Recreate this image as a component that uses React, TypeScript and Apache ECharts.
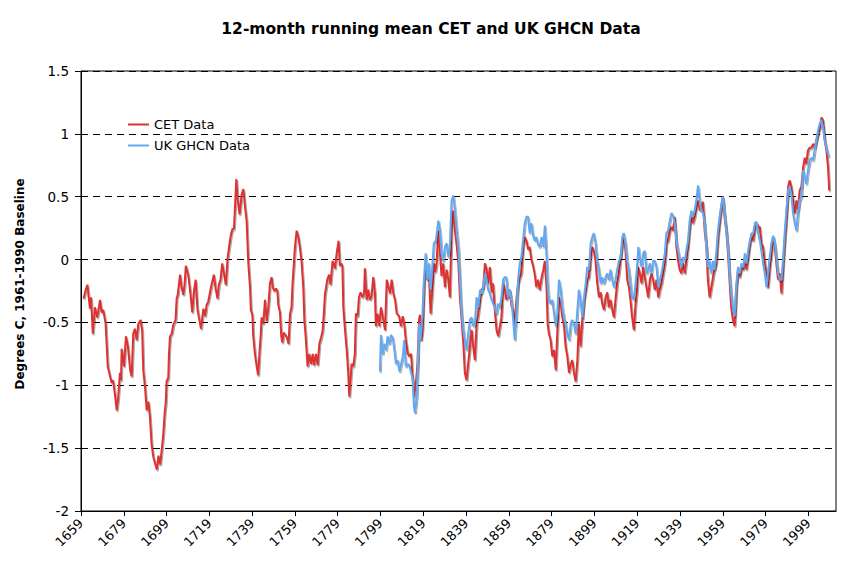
import React, { useEffect, useRef } from "react";
import * as echarts from "echarts";

// ---------- data ----------
const X_START = 1659;
const X_END = 2011.9;
const yearTickStep = 20;
const yTicks = [-2, -1.5, -1, -0.5, 0, 0.5, 1, 1.5];

const cet: [number, number][] = [
  [1660.2,-0.31],[1661.2,-0.24],[1662.0,-0.20],[1662.6,-0.30],[1663.2,-0.39],[1663.7,-0.30],[1664.5,-0.59],[1665.5,-0.38],
  [1666.6,-0.46],[1667.9,-0.32],[1668.6,-0.42],[1669.4,-0.40],[1670.5,-0.51],[1671.5,-0.85],[1672.6,-0.93],[1673.3,-0.98],
  [1674.0,-0.96],[1674.9,-1.08],[1675.7,-1.20],[1676.4,-1.09],[1677.2,-0.90],[1677.7,-0.96],[1678.0,-0.71],[1679.1,-0.85],
  [1680.0,-0.61],[1680.9,-0.69],[1682.0,-0.88],[1682.7,-0.93],[1683.4,-0.59],[1684.2,-0.55],[1685.0,-0.64],[1685.8,-0.51],
  [1686.9,-0.48],[1687.6,-0.57],[1688.1,-0.88],[1688.9,-1.01],[1689.7,-1.20],[1690.5,-1.13],[1691.2,-1.25],[1692.0,-1.47],
  [1692.8,-1.57],[1693.6,-1.62],[1694.4,-1.67],[1695.2,-1.56],[1696.0,-1.63],[1696.8,-1.50],[1697.5,-1.38],[1698.1,-1.22],
  [1698.6,-1.14],[1699.0,-0.97],[1699.8,-0.94],[1700.1,-0.76],[1700.6,-0.61],[1701.4,-0.59],[1702.1,-0.52],[1703.2,-0.48],
  [1703.7,-0.31],[1704.2,-0.28],[1705.3,-0.12],[1705.8,-0.20],[1706.8,-0.28],[1707.4,-0.20],[1708.0,-0.05],[1709.1,-0.12],
  [1710.2,-0.28],[1711.0,-0.42],[1711.8,-0.25],[1712.6,-0.16],[1713.4,-0.39],[1714.1,-0.46],[1715.1,-0.55],[1716.2,-0.39],
  [1717.0,-0.45],[1717.7,-0.36],[1718.4,-0.34],[1719.3,-0.26],[1720.0,-0.20],[1721.1,-0.12],[1721.9,-0.23],[1722.8,-0.31],
  [1723.4,-0.20],[1724.2,-0.16],[1725.0,-0.03],[1725.9,-0.12],[1726.7,-0.20],[1727.5,0.01],[1728.3,0.11],[1729.1,0.20],
  [1729.7,0.24],[1730.5,0.25],[1731.0,0.43],[1731.6,0.64],[1732.2,0.48],[1733.1,0.36],[1734.1,0.52],[1734.9,0.56],
  [1735.6,0.43],[1736.4,0.31],[1737.2,-0.03],[1738.0,-0.22],[1738.4,-0.40],[1739.1,-0.44],[1739.5,-0.61],[1740.3,-0.75],
  [1741.1,-0.85],[1741.8,-0.92],[1742.5,-0.72],[1743.0,-0.60],[1743.4,-0.46],[1744.2,-0.51],[1745.0,-0.32],[1745.8,-0.49],
  [1746.6,-0.37],[1747.3,-0.19],[1748.1,-0.14],[1748.6,-0.22],[1749.4,-0.25],[1750.2,-0.23],[1750.8,-0.25],[1751.2,-0.36],
  [1752.0,-0.42],[1752.6,-0.61],[1753.1,-0.66],[1753.7,-0.58],[1754.6,-0.60],[1755.2,-0.62],[1756.0,-0.67],[1756.7,-0.43],
  [1757.4,-0.38],[1757.9,-0.18],[1758.5,-0.03],[1759.0,0.10],[1759.8,0.23],[1760.6,0.18],[1761.3,0.10],[1762.1,-0.02],
  [1762.9,-0.22],[1763.4,-0.48],[1764.0,-0.61],[1764.9,-0.85],[1765.7,-0.75],[1766.5,-0.83],[1767.3,-0.75],[1767.9,-0.84],
  [1768.8,-0.75],[1769.6,-0.84],[1770.4,-0.67],[1771.2,-0.62],[1771.9,-0.57],[1772.5,-0.43],[1773.0,-0.28],[1774.1,-0.16],
  [1775.0,-0.12],[1775.6,-0.20],[1776.6,-0.01],[1777.7,-0.07],[1778.5,0.05],[1779.4,0.15],[1780.0,-0.05],[1780.6,-0.03],
  [1781.2,-0.05],[1781.6,-0.38],[1782.4,-0.56],[1783.2,-0.72],[1783.9,-0.90],[1784.4,-1.09],[1785.0,-0.95],[1785.5,-0.83],
  [1786.3,-0.85],[1787.0,-0.75],[1787.5,-0.43],[1788.3,-0.45],[1788.9,-0.30],[1789.7,-0.26],[1790.5,-0.30],[1791.3,-0.27],
  [1791.7,-0.07],[1792.5,-0.32],[1793.3,-0.24],[1794.0,-0.32],[1794.8,-0.29],[1795.6,-0.14],[1796.4,-0.27],[1796.8,-0.53],
  [1797.6,-0.43],[1798.4,-0.53],[1799.2,-0.38],[1800.3,-0.48],[1801.1,-0.56],[1801.9,-0.16],[1802.7,-0.22],[1803.5,-0.27],
  [1804.2,-0.16],[1805.0,-0.27],[1805.8,-0.32],[1806.6,-0.43],[1807.7,-0.45],[1808.5,-0.53],[1809.4,-0.45],[1810.2,-0.53],
  [1810.8,-0.64],[1811.8,-0.75],[1812.4,-0.77],[1813.3,-0.75],[1813.9,-0.93],[1814.6,-1.09],[1815.4,-1.01],[1816.2,-0.85],
  [1817.0,-0.48],[1817.4,-0.44],[1818.0,-0.64],[1818.6,-0.56],[1819.3,-0.19],[1820.1,-0.06],[1820.9,-0.16],[1821.6,-0.11],
  [1822.4,-0.43],[1823.2,-0.24],[1824.0,-0.03],[1824.6,-0.10],[1825.2,-0.03],[1826.0,0.23],[1826.8,0.05],[1827.5,-0.13],
  [1828.3,-0.03],[1829.1,-0.22],[1829.9,-0.08],[1830.7,-0.16],[1831.4,-0.30],[1832.2,0.23],[1833.0,0.39],[1833.8,0.23],
  [1834.6,0.11],[1835.4,-0.03],[1836.1,-0.30],[1836.9,-0.48],[1837.7,-0.67],[1838.4,-0.90],[1839.2,-0.96],[1840.0,-0.82],
  [1840.8,-0.69],[1841.6,-0.56],[1842.3,-0.69],[1843.1,-0.80],[1843.9,-0.51],[1844.7,-0.43],[1845.5,-0.32],[1846.2,-0.24],
  [1847.0,-0.22],[1847.8,-0.03],[1848.6,-0.08],[1849.3,-0.19],[1850.1,-0.06],[1850.9,-0.26],[1851.6,-0.19],[1852.4,-0.40],
  [1853.2,-0.56],[1854.0,-0.61],[1854.8,-0.53],[1855.5,-0.46],[1856.3,-0.19],[1857.1,-0.24],[1857.8,-0.32],[1858.6,-0.27],
  [1859.4,-0.24],[1860.2,-0.37],[1860.9,-0.40],[1861.7,-0.53],[1862.5,-0.32],[1863.3,-0.19],[1864.1,-0.14],[1864.8,-0.11],
  [1865.6,0.10],[1866.4,0.18],[1867.2,0.15],[1868.0,0.08],[1868.7,0.10],[1869.5,0.00],[1870.3,-0.05],[1871.1,-0.12],
  [1871.8,-0.22],[1872.6,-0.16],[1873.4,-0.24],[1874.3,-0.14],[1875.1,-0.08],[1875.8,-0.01],[1876.6,-0.22],[1877.1,-0.51],
  [1877.7,-0.59],[1878.5,-0.64],[1879.3,-0.77],[1880.1,-0.72],[1880.9,-0.88],[1881.6,-0.59],[1882.4,-0.30],[1883.2,-0.35],
  [1884.0,-0.46],[1884.8,-0.53],[1885.5,-0.69],[1886.3,-0.77],[1887.1,-0.90],[1887.9,-0.83],[1888.6,-0.80],[1889.4,-0.90],
  [1890.2,-0.97],[1891.0,-0.80],[1891.7,-0.51],[1892.5,-0.69],[1893.3,-0.48],[1894.1,-0.32],[1894.9,-0.24],[1895.6,-0.16],
  [1896.4,-0.14],[1897.2,0.02],[1898.0,0.10],[1898.7,0.07],[1899.5,-0.01],[1900.3,-0.19],[1901.1,-0.30],[1901.9,-0.26],
  [1902.6,-0.35],[1903.4,-0.40],[1904.2,-0.30],[1905.0,-0.26],[1905.7,-0.38],[1906.5,-0.32],[1907.3,-0.40],[1908.1,-0.46],
  [1908.8,-0.32],[1909.6,-0.19],[1910.4,-0.11],[1911.2,0.02],[1912.0,0.13],[1912.7,0.18],[1913.5,0.07],[1914.3,-0.16],
  [1915.1,-0.22],[1915.8,-0.32],[1916.6,-0.46],[1917.4,-0.56],[1918.2,-0.35],[1918.9,-0.24],[1919.4,-0.06],[1920.2,-0.11],
  [1921.0,-0.19],[1921.8,-0.06],[1922.5,-0.14],[1923.3,-0.22],[1924.1,-0.30],[1924.9,-0.16],[1925.6,-0.11],[1926.4,-0.16],
  [1927.2,-0.24],[1928.0,-0.16],[1928.8,-0.30],[1929.5,-0.24],[1930.3,-0.19],[1931.1,-0.11],[1931.9,-0.03],[1932.6,0.13],
  [1933.4,0.15],[1934.2,0.23],[1935.0,0.26],[1935.7,0.23],[1936.5,0.34],[1937.3,0.10],[1938.1,-0.01],[1938.8,-0.08],
  [1939.6,-0.11],[1940.4,-0.03],[1941.2,-0.11],[1941.9,-0.01],[1942.7,0.10],[1943.5,0.26],[1944.3,0.34],[1945.0,0.29],
  [1945.8,0.34],[1946.6,0.42],[1947.4,0.47],[1948.2,0.39],[1948.9,0.42],[1949.7,0.46],[1950.5,0.23],[1951.3,0.10],
  [1952.0,-0.16],[1952.8,-0.30],[1953.6,-0.22],[1954.4,-0.14],[1955.1,-0.08],[1955.9,-0.03],[1956.7,0.18],[1957.5,0.31],
  [1958.3,0.42],[1959.0,0.50],[1959.8,0.34],[1960.6,0.23],[1961.4,0.05],[1962.1,-0.16],[1962.9,-0.38],[1963.7,-0.48],
  [1964.5,-0.53],[1965.3,-0.22],[1966.1,-0.08],[1966.9,-0.14],[1967.7,-0.06],[1968.5,-0.08],[1969.3,0.02],[1970.0,-0.08],
  [1970.8,0.02],[1971.6,0.13],[1972.4,0.18],[1973.2,0.15],[1974.0,0.26],[1974.7,0.29],[1975.5,0.26],[1976.3,0.26],
  [1977.0,0.13],[1977.8,0.10],[1978.6,-0.03],[1979.4,-0.11],[1980.1,-0.22],[1980.9,-0.06],[1981.7,0.05],[1982.5,0.18],
  [1983.3,0.10],[1984.0,-0.03],[1984.8,-0.16],[1985.6,-0.11],[1986.4,-0.27],[1987.1,-0.06],[1987.9,0.15],[1988.7,0.34],
  [1989.5,0.58],[1990.2,0.63],[1991.0,0.58],[1991.8,0.47],[1992.6,0.37],[1993.4,0.47],[1994.1,0.39],[1994.9,0.55],
  [1995.7,0.58],[1996.5,0.73],[1997.3,0.81],[1998.0,0.76],[1998.8,0.87],[1999.6,0.89],[2000.4,0.89],[2001.2,0.92],
  [2001.9,0.89],[2002.7,0.95],[2003.5,1.00],[2004.3,1.05],[2005.1,1.13],[2005.8,1.11],[2006.6,0.95],[2007.4,0.87],
  [2008.2,0.73],[2008.7,0.55],
];

const ghcn: [number, number][] = [
  [1798.7,-0.89],[1799.2,-0.60],[1800.0,-0.75],[1800.8,-0.67],[1801.6,-0.72],[1802.3,-0.61],[1803.1,-0.67],[1803.9,-0.60],
  [1804.7,-0.62],[1805.5,-0.72],[1806.2,-0.83],[1807.0,-0.80],[1807.8,-0.89],[1808.6,-0.83],[1809.4,-0.77],[1810.1,-0.64],
  [1810.8,-0.85],[1811.8,-0.83],[1812.6,-0.85],[1813.3,-0.90],[1814.1,-0.96],[1814.6,-1.17],[1815.1,-1.22],[1815.9,-1.09],
  [1816.4,-0.85],[1817.0,-0.51],[1817.7,-0.64],[1818.6,-0.43],[1819.3,-0.16],[1820.1,0.05],[1820.9,-0.16],[1821.6,-0.03],
  [1822.4,-0.24],[1823.2,-0.06],[1823.9,0.13],[1824.9,0.15],[1826.0,0.31],[1826.8,0.23],[1827.5,0.05],[1828.3,-0.01],
  [1829.1,0.10],[1829.9,0.13],[1830.7,0.02],[1831.4,0.10],[1832.2,0.47],[1833.0,0.51],[1833.8,0.39],[1834.6,0.23],
  [1835.4,0.10],[1836.1,-0.16],[1836.9,-0.43],[1837.7,-0.56],[1838.4,-0.64],[1839.2,-0.72],[1840.0,-0.59],[1840.8,-0.48],
  [1841.6,-0.46],[1842.3,-0.53],[1843.1,-0.51],[1843.9,-0.30],[1844.7,-0.38],[1845.5,-0.24],[1846.2,-0.27],[1847.0,-0.22],
  [1847.8,-0.11],[1848.6,-0.16],[1849.3,-0.24],[1850.1,-0.27],[1850.9,-0.32],[1851.6,-0.35],[1852.4,-0.38],[1853.2,-0.43],
  [1854.0,-0.35],[1854.8,-0.38],[1855.5,-0.30],[1856.3,-0.16],[1857.1,-0.14],[1857.8,-0.14],[1858.6,-0.30],[1859.4,-0.24],
  [1860.2,-0.32],[1860.9,-0.46],[1861.7,-0.64],[1862.5,-0.43],[1863.3,-0.16],[1864.1,-0.03],[1864.8,0.02],[1865.6,0.15],
  [1866.4,0.29],[1867.2,0.34],[1868.0,0.34],[1868.7,0.21],[1869.5,0.29],[1870.3,0.19],[1871.1,0.15],[1871.8,0.18],
  [1872.6,0.12],[1873.4,0.10],[1874.3,0.18],[1875.1,0.10],[1875.8,0.27],[1876.6,0.02],[1877.1,-0.19],[1877.7,-0.32],
  [1878.5,-0.35],[1879.3,-0.32],[1880.1,-0.43],[1880.9,-0.53],[1881.6,-0.43],[1882.4,-0.16],[1883.2,-0.24],[1884.0,-0.38],
  [1884.8,-0.46],[1885.5,-0.51],[1886.3,-0.59],[1887.1,-0.64],[1887.9,-0.51],[1888.6,-0.48],[1889.4,-0.51],[1890.2,-0.59],
  [1891.0,-0.40],[1891.7,-0.24],[1892.5,-0.32],[1893.3,-0.46],[1894.1,-0.30],[1894.9,-0.19],[1895.6,-0.06],[1896.4,-0.08],
  [1897.2,0.13],[1898.0,0.18],[1898.7,0.21],[1899.5,0.13],[1900.3,-0.01],[1901.1,-0.08],[1901.9,-0.19],[1902.6,-0.14],
  [1903.4,-0.19],[1904.2,-0.14],[1905.0,-0.11],[1905.7,-0.16],[1906.5,-0.08],[1907.3,-0.16],[1908.1,-0.22],[1908.8,-0.16],
  [1909.6,-0.08],[1910.4,-0.01],[1911.2,0.02],[1912.0,0.18],[1912.7,0.21],[1913.5,0.13],[1914.3,-0.01],[1915.1,-0.08],
  [1915.8,-0.19],[1916.6,-0.30],[1917.4,-0.32],[1918.2,-0.19],[1918.9,-0.06],[1919.5,0.10],[1920.2,0.02],[1921.0,-0.06],
  [1921.8,0.05],[1922.5,0.07],[1923.3,-0.11],[1924.1,-0.08],[1924.9,-0.03],[1925.6,-0.11],[1926.4,-0.01],[1927.2,-0.01],
  [1928.0,-0.06],[1928.8,-0.22],[1929.5,-0.16],[1930.3,-0.11],[1931.1,-0.03],[1931.9,0.05],[1932.6,0.21],[1933.4,0.23],
  [1934.2,0.31],[1935.0,0.37],[1935.7,0.35],[1936.5,0.29],[1937.3,0.15],[1938.1,0.07],[1938.8,0.02],[1939.6,-0.06],
  [1940.4,0.02],[1941.2,-0.01],[1941.9,0.07],[1942.7,0.15],[1943.5,0.31],[1944.3,0.39],[1945.0,0.34],[1945.8,0.39],
  [1946.6,0.47],[1947.4,0.59],[1948.2,0.47],[1948.9,0.39],[1949.7,0.37],[1950.5,0.29],[1951.3,0.10],[1952.0,-0.06],
  [1952.8,-0.01],[1953.6,-0.11],[1954.4,-0.01],[1955.1,-0.08],[1955.9,0.05],[1956.7,0.23],[1957.5,0.34],[1958.3,0.44],
  [1959.0,0.50],[1959.8,0.37],[1960.6,0.23],[1961.4,0.10],[1962.1,-0.11],[1962.9,-0.27],[1963.7,-0.38],[1964.5,-0.45],
  [1965.3,-0.20],[1966.1,-0.06],[1966.9,-0.11],[1967.7,-0.03],[1968.5,-0.06],[1969.3,0.05],[1970.0,-0.03],[1970.8,0.07],
  [1971.6,0.15],[1972.4,0.21],[1973.2,0.21],[1974.0,0.29],[1974.7,0.30],[1975.5,0.21],[1976.3,0.15],[1977.0,0.07],
  [1977.8,-0.03],[1978.6,-0.11],[1979.4,-0.22],[1980.1,-0.11],[1980.9,0.02],[1981.7,0.13],[1982.5,0.19],[1983.3,0.13],
  [1984.0,0.02],[1984.8,-0.11],[1985.6,-0.16],[1986.4,-0.16],[1987.1,-0.01],[1987.9,0.21],[1988.7,0.39],[1989.5,0.55],
  [1990.2,0.58],[1991.0,0.52],[1991.8,0.37],[1992.6,0.29],[1993.4,0.23],[1994.1,0.37],[1994.9,0.47],[1995.7,0.50],
  [1996.5,0.71],[1997.3,0.66],[1998.0,0.60],[1998.8,0.71],[1999.6,0.79],[2000.4,0.81],[2001.2,0.79],[2001.9,0.87],
  [2002.7,0.95],[2003.5,1.03],[2004.3,1.08],[2005.1,1.11],[2005.8,1.05],[2006.6,0.95],[2007.4,0.89],[2008.2,0.84],
  [2008.6,0.82],
];

const FONT = "DejaVu Sans";

export default function App() {
  const ref = useRef<HTMLDivElement>(null);

  useEffect(() => {
    document.body.style.margin = "0";
    if (!ref.current) return;
    const chart = echarts.init(ref.current, undefined, { renderer: "svg" });

    const shift = (d: [number, number][]) => d.map(([y, v]) => [y - X_START, v]);
    const shadow = {
      shadowColor: "rgba(0,0,0,0.35)",
      shadowOffsetX: 1,
      shadowOffsetY: 1.5,
      shadowBlur: 0,
    };

    chart.setOption({
      animation: false,
      backgroundColor: "#ffffff",
      title: {
        text: "12-month running mean CET and UK GHCN Data",
        left: "center",
        top: 16,
        textStyle: { fontFamily: FONT, fontSize: 15.5, fontWeight: "bold", color: "#000" },
      },
      legend: {
        orient: "vertical",
        left: 122,
        top: 113,
        itemWidth: 21,
        itemHeight: 14,
        itemGap: 8,
        itemStyle: { opacity: 0 },
        textStyle: { fontFamily: FONT, fontSize: 13, color: "#000" },
        data: ["CET Data", "UK GHCN Data"],
      },
      grid: {
        left: 81,
        right: 26,
        top: 71,
        bottom: 66,
        show: true,
        borderColor: "#000",
        borderWidth: 1,
        backgroundColor: "transparent",
      },
      xAxis: {
        type: "value",
        min: 0,
        max: X_END - X_START,
        interval: yearTickStep,
        axisLine: { show: true, onZero: false, lineStyle: { color: "#000", width: 1 } },
        axisTick: { show: true, inside: false, length: 5, lineStyle: { color: "#000" } },
        splitLine: { show: false },
        axisLabel: {
          rotate: 45,
          margin: 10,
          showMaxLabel: false,
          fontFamily: FONT,
          fontSize: 13,
          color: "#000",
          formatter: (v: number) =>
            Math.abs(v % yearTickStep) < 1e-6 ? String(Math.round(v + X_START)) : "",
        },
      },
      yAxis: {
        type: "value",
        min: yTicks[0],
        max: yTicks[yTicks.length - 1],
        interval: 0.5,
        axisLine: { show: true, lineStyle: { color: "#000", width: 1 } },
        axisTick: { show: true, inside: false, length: 6, lineStyle: { color: "#000" } },
        splitLine: { show: true, lineStyle: { color: "#000", width: 1, type: [7, 5] } },
        axisLabel: {
          margin: 12,
          fontFamily: FONT,
          fontSize: 13.5,
          color: "#000",
          formatter: (v: number) => String(v),
        },
      },
      graphic: [
        {
          type: "text",
          x: 20,
          y: 284,
          rotation: Math.PI / 2,
          style: {
            text: "Degrees C, 1961-1990 Baseline",
            fontFamily: FONT,
            fontSize: 12,
            fontWeight: "bold",
            fill: "#000",
            align: "center",
            verticalAlign: "middle",
            textAlign: "center",
            textVerticalAlign: "middle",
          },
        },
      ],
      series: [
        {
          name: "CET Data",
          type: "line",
          data: shift(cet),
          showSymbol: false,
          symbol: "none",
          color: "#dc3232",
          lineStyle: { width: 2, color: "#dc3232", ...shadow },
          z: 2,
        },
        {
          name: "UK GHCN Data",
          type: "line",
          data: shift(ghcn),
          showSymbol: false,
          symbol: "none",
          color: "#64a8f0",
          lineStyle: { width: 2, color: "#64a8f0", ...shadow },
          z: 3,
        },
      ],
    });

    return () => chart.dispose();
  }, []);

  return <div ref={ref} style={{ width: 862, height: 577 }} />;
}
